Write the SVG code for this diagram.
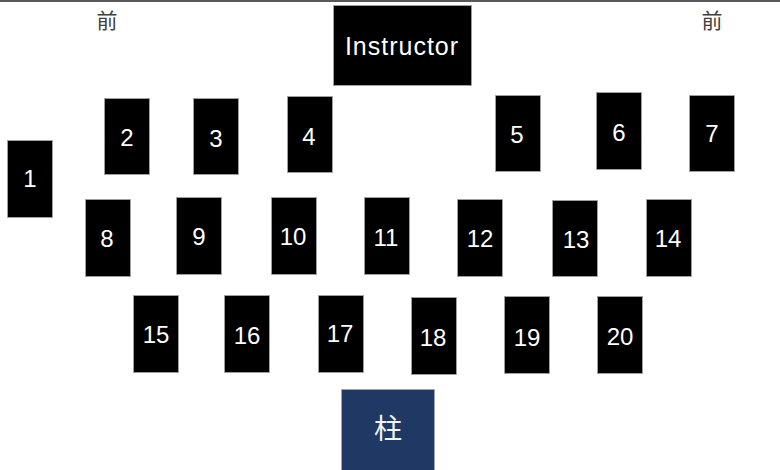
<svg xmlns="http://www.w3.org/2000/svg" width="780" height="470" viewBox="0 0 780 470">
<style>
.desk{fill:#000;stroke:#a6a6a6;stroke-width:0.8}
.num{font-family:"Liberation Sans",Arial,sans-serif;font-size:24px;fill:#fff;text-anchor:middle}
.front{font-family:"Noto Sans CJK JP","Noto Sans CJK SC",sans-serif;font-size:21px;fill:#404040;text-anchor:middle}
</style>
<rect width="780" height="470" fill="#fff"/>
<line x1="0" y1="1" x2="780" y2="1" stroke="#595959" stroke-width="2"/>
<g id="labels">
<text class="front" x="107" y="28">前</text>
<text class="front" x="712" y="28">前</text>
</g>
<g id="instructor">
<rect class="desk" x="333.5" y="5.5" width="138" height="80"/>
<text x="402" y="55" style="font-family:'Liberation Sans',Arial,sans-serif;font-size:25px;fill:#fff;text-anchor:middle;letter-spacing:1px">Instructor</text>
</g>
<g id="seat1"><rect class="desk" x="7.5" y="140.5" width="45" height="77"/><text class="num" x="30" y="187">1</text></g>
<g id="seat2"><rect class="desk" x="104.5" y="98.5" width="45" height="76"/><text class="num" x="127" y="146">2</text></g>
<g id="seat3"><rect class="desk" x="193.5" y="98.5" width="45" height="76"/><text class="num" x="216" y="147">3</text></g>
<g id="seat4"><rect class="desk" x="287.5" y="96.5" width="45" height="76"/><text class="num" x="309" y="144.5">4</text></g>
<g id="seat5"><rect class="desk" x="495.5" y="95.5" width="45" height="76"/><text class="num" x="517" y="142.5">5</text></g>
<g id="seat6"><rect class="desk" x="596.5" y="92.5" width="45" height="77"/><text class="num" x="619" y="140.5">6</text></g>
<g id="seat7"><rect class="desk" x="689.5" y="95.5" width="45" height="76"/><text class="num" x="712" y="142">7</text></g>
<g id="seat8"><rect class="desk" x="85.5" y="199.5" width="45" height="77"/><text class="num" x="107" y="246.5">8</text></g>
<g id="seat9"><rect class="desk" x="176.5" y="197.5" width="45" height="77"/><text class="num" x="199" y="245">9</text></g>
<g id="seat10"><rect class="desk" x="271.5" y="197.5" width="45" height="77"/><text class="num" x="293" y="244.5">10</text></g>
<g id="seat11"><rect class="desk" x="364.5" y="197.5" width="45" height="77"/><text class="num" x="386" y="245.5">11</text></g>
<g id="seat12"><rect class="desk" x="457.5" y="199.5" width="45" height="77"/><text class="num" x="480" y="247">12</text></g>
<g id="seat13"><rect class="desk" x="552.5" y="200.5" width="45" height="76"/><text class="num" x="576" y="247.5">13</text></g>
<g id="seat14"><rect class="desk" x="646.5" y="199.5" width="45" height="77"/><text class="num" x="668" y="247">14</text></g>
<g id="seat15"><rect class="desk" x="133.5" y="295.5" width="45" height="77"/><text class="num" x="156" y="342.5">15</text></g>
<g id="seat16"><rect class="desk" x="224.5" y="295.5" width="45" height="77"/><text class="num" x="247" y="344">16</text></g>
<g id="seat17"><rect class="desk" x="318.5" y="295.5" width="45" height="77"/><text class="num" x="340" y="342">17</text></g>
<g id="seat18"><rect class="desk" x="411.5" y="297.5" width="45" height="77"/><text class="num" x="433" y="345.5">18</text></g>
<g id="seat19"><rect class="desk" x="504.5" y="296.5" width="45" height="77"/><text class="num" x="527" y="345.5">19</text></g>
<g id="seat20"><rect class="desk" x="597.5" y="296.5" width="45" height="77"/><text class="num" x="620" y="344.5">20</text></g>
<g id="pillar">
<rect x="341.5" y="389.5" width="93" height="82" fill="#203864" stroke="#a6a6a6" stroke-width="0.8"/>
<text x="388" y="438.5" style="font-family:'Noto Sans CJK JP','Noto Sans CJK SC',sans-serif;font-size:28px;fill:#f2f2f2;text-anchor:middle">柱</text>
</g>
<g id="connectors"></g>
</svg>
